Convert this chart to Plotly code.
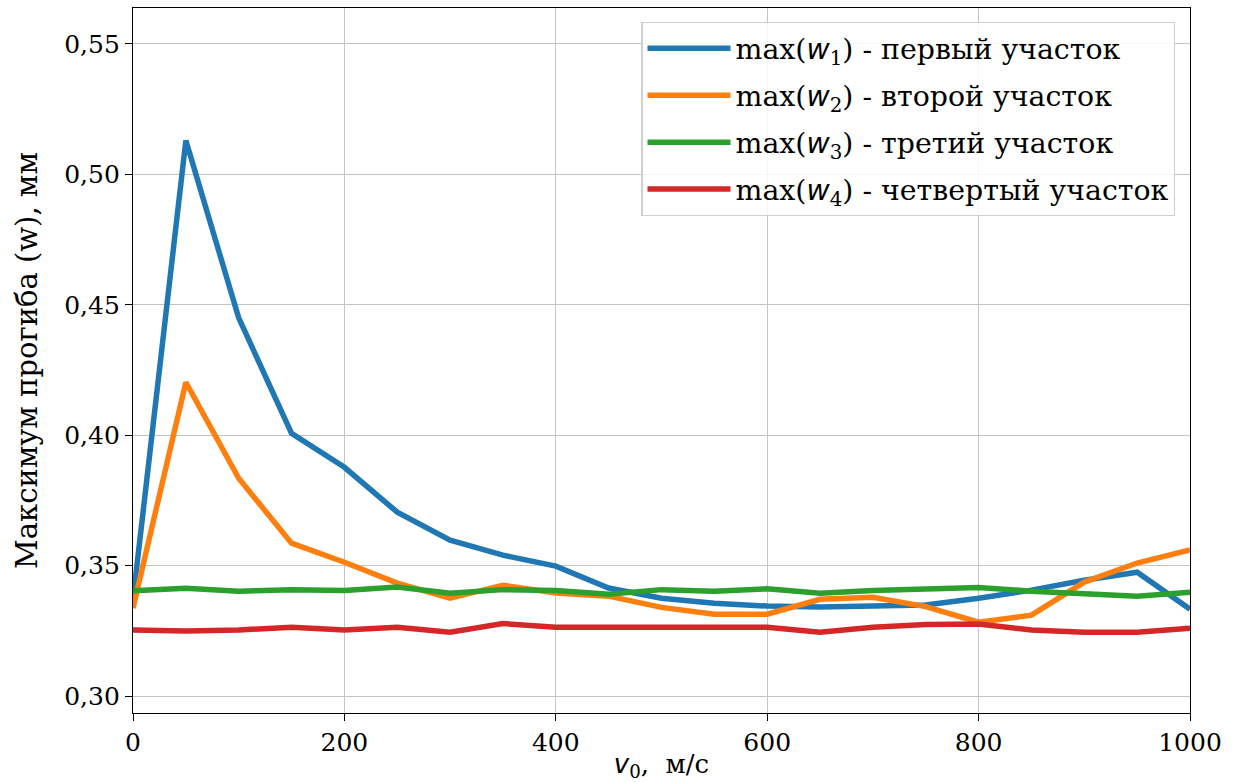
import plotly.graph_objects as go

# Скорость v0, м/с
v0 = [0, 50, 100, 150, 200, 250, 300, 350, 400, 450, 500,
      550, 600, 650, 700, 750, 800, 850, 900, 950, 1000]

# Максимальный прогиб на каждом участке, мм
w1_max = [0.337, 0.513, 0.445, 0.4007, 0.3877, 0.3705, 0.3598, 0.354, 0.3498, 0.3414, 0.3375,
          0.3356, 0.3345, 0.3341, 0.3345, 0.3349, 0.3375, 0.3406, 0.3444, 0.3475, 0.3333]
w2_max = [0.3337, 0.4203, 0.3835, 0.3586, 0.3513, 0.3433, 0.3375, 0.3425, 0.3395, 0.3383, 0.334,
          0.3314, 0.3314, 0.3371, 0.3379, 0.3343, 0.3283, 0.331, 0.3437, 0.351, 0.356]
w3_max = [0.3404, 0.3413, 0.3402, 0.3408, 0.3405, 0.3418, 0.3394, 0.3408, 0.3405, 0.339, 0.3408,
          0.3402, 0.3411, 0.3394, 0.3405, 0.3411, 0.3416, 0.3402, 0.339, 0.3383, 0.3398]
w4_max = [0.3253, 0.3249, 0.3253, 0.3264, 0.3253, 0.3264, 0.3245, 0.3278, 0.3264, 0.3264, 0.3268,
          0.3268, 0.3264, 0.3245, 0.3264, 0.3274, 0.3276, 0.3253, 0.3245, 0.3245, 0.326]

names = ["первый участок", "второй участок", "третий участок", "четвертый участок"]
colors = ["#1f77b4", "#ff7f0e", "#2ca02c", "#d62728"]
series = [w1_max, w2_max, w3_max, w4_max]

x_ticks = [0, 200, 400, 600, 800, 1000]
y_ticks = [0.30, 0.35, 0.40, 0.45, 0.50, 0.55]

SERIF = "DejaVu Serif"
MATH = '<span style="font-family:DejaVu Sans"><i>{}</i></span>'

fig = go.Figure()
for i, (ys, name, col) in enumerate(zip(series, names, colors), start=1):
    label = "max(" + MATH.format("w") + f"<sub>{i}</sub>) - {name}"
    fig.add_trace(go.Scatter(
        x=v0, y=ys, mode="lines", name=label, legendgroup=f"g{i}",
        line=dict(color=col, width=5.5),
    ))

axis_common = dict(
    showline=True, linecolor="black", linewidth=1.3, mirror=True,
    ticks="outside", ticklen=7, tickwidth=1.3, tickcolor="black",
    showgrid=True, gridcolor="#c4c4c4", gridwidth=1.2,
    zeroline=False, automargin=False,
    tickfont=dict(family=SERIF, size=25, color="black"),
)

fig.update_layout(
    width=1236, height=782,
    margin=dict(l=133, r=46, t=8, b=69),
    paper_bgcolor="white", plot_bgcolor="white",
    separators=", ",
    font=dict(family=SERIF, size=25, color="black"),
    showlegend=True,
    legend=dict(
        x=0.986, y=0.98, xanchor="right", yanchor="top",
        bgcolor="rgba(255,255,255,0.85)", bordercolor="#d0d0d0", borderwidth=1.3,
        font=dict(family=SERIF, size=28.4, color="black"),
        itemwidth=83, tracegroupgap=7,
    ),
    xaxis=dict(
        range=[0, 1000], tickvals=x_ticks,
        title=dict(text=MATH.format("v") + "<sub>0</sub>,  м/с",
                   font=dict(family=SERIF, size=26), standoff=6),
        **axis_common,
    ),
    yaxis=dict(
        range=[0.2935, 0.5638], tickvals=y_ticks, tickformat=".2f",
        title=dict(text="Максимум прогиба (w), мм",
                   font=dict(family=SERIF, size=29), standoff=18),
        **axis_common,
    ),
)

fig.write_html("out.html")
